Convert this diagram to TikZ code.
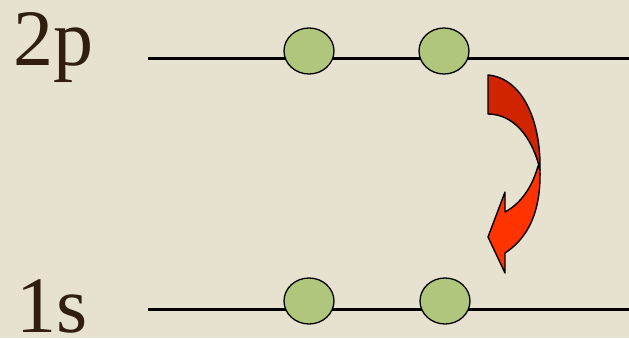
\documentclass[tikz,border=0pt]{standalone}
\usepackage{fontspec}
\setmainfont{Liberation Serif}
\definecolor{bg}{RGB}{231,225,208}
\definecolor{lvl}{RGB}{176,198,124}
\definecolor{txt}{RGB}{48,30,14}
\definecolor{darkred}{RGB}{208,36,0}
\definecolor{brightred}{RGB}{255,51,0}
\tikzset{
  level/.style={line width=3pt, black},
  electron/.style={ellipse, draw=black, line width=1.3pt, fill=lvl, minimum width=50pt, minimum height=46pt, inner sep=0pt},
  label/.style={anchor=base west, inner sep=0pt, text=txt, font=\fontsize{80}{80}\selectfont},
  arrowpart/.style={draw=black, line width=1.4pt, line join=round}
}
\usetikzlibrary{shapes.geometric}
\begin{document}
\begin{tikzpicture}[x=1pt,y=-1pt]
\useasboundingbox (0,0) rectangle (629,338);
\fill[bg] (0,0) rectangle (629,338);
% labels
\node[label] (l2p) at (13,65) {2p};
\node[label] (l1s) at (16,332) {1s};
% levels
\coordinate (t0) at (148,58);
\coordinate (t1) at (629,58);
\coordinate (b0) at (148,309);
\coordinate (b1) at (629,309);
\draw[level] (t0) -- (t1);
\draw[level] (b0) -- (b1);
% electrons
\node[electron] (e1) at (309,51) {};
\node[electron] (e2) at (444,51) {};
\node[electron] (e3) at (309,301) {};
\node[electron] (e4) at (445,301) {};
% curved arrow
\fill[darkred, arrowpart] (488,75) .. controls (522,78) and (541,120) .. (540,170)
  .. controls (532,135) and (512,114) .. (488,114) -- cycle;
\fill[brightred, arrowpart] (538,166) .. controls (532,188) and (520,204) .. (505,212)
  -- (505,192) -- (488,237) -- (505,273) -- (505,253)
  .. controls (528,238) and (541,212) .. (540,170) -- cycle;
\end{tikzpicture}
\end{document}
